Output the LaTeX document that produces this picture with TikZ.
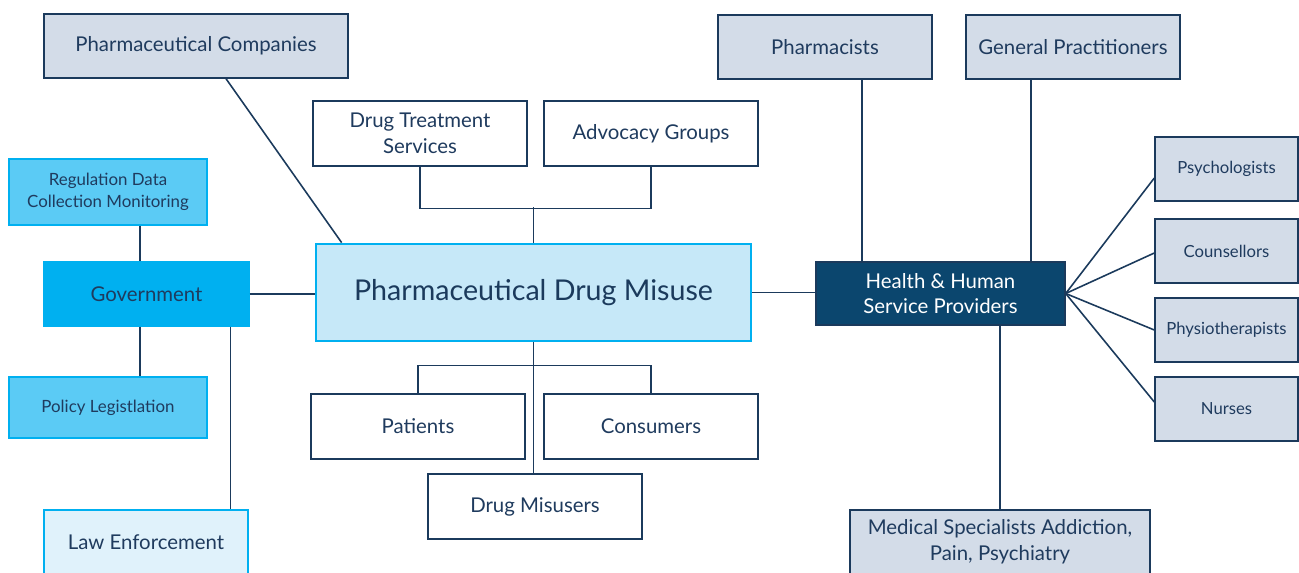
\documentclass[tikz,border=0pt]{standalone}
\usepackage{fontspec}
\setmainfont{Lato}
\usepackage{xcolor}
\usepackage{tikz}
\usetikzlibrary{positioning}
\usetikzlibrary{calc}

\definecolor{navy}{HTML}{1B3A5C}
\definecolor{inktext}{HTML}{1F3B5E}
\definecolor{greyblue}{HTML}{D3DCE8}
\definecolor{cyanline}{HTML}{00B0F0}
\definecolor{cyanmid}{HTML}{5BCBF5}
\definecolor{cyanpale}{HTML}{E0F2FB}
\definecolor{cyanlight}{HTML}{C6E8F8}
\definecolor{deepblue}{HTML}{0B466E}

\begin{document}
\begin{tikzpicture}[x=0.02cm, y=-0.02cm,
  box/.style={draw=navy, line width=0.8pt, text=inktext, align=center, font=\fontsize{11.6}{14.7}\selectfont, minimum width=4.28cm, minimum height=1.3cm, inner sep=2pt},
  greybox/.style={box, fill=greyblue},
  whitebox/.style={box, fill=white},
  smallbox/.style={greybox, minimum width=2.86cm, minimum height=1.28cm, font=\fontsize{9.5}{11}\selectfont},
  govbox/.style={box, draw=cyanline, fill=cyanmid, minimum width=3.96cm, font=\fontsize{9.6}{12.5}\selectfont},
  link/.style={draw=navy, line width=0.9pt}]
\useasboundingbox (0,0) rectangle (1299,572);
\clip (0,0) rectangle (1299,572);

% centre
\node[box, draw=cyanline, line width=1.6pt, fill=cyanlight, minimum width=8.7cm, minimum height=1.94cm, font=\fontsize{16.3}{19}\selectfont, text=navy] (misuse) at (533.5,292.5) {Pharmaceutical Drug Misuse};

% top
\node[greybox, minimum width=6.08cm, minimum height=1.28cm] (pharmaco) at (196,46) {Pharmaceutical Companies};
\node[whitebox] (treat) at (420,133.5) {Drug Treatment\\Services};
\node[whitebox] (advoc) at (651,133.5) {Advocacy Groups};
\node[greybox, minimum height=1.28cm] (pharmacists) at (825,47) {Pharmacists};
\node[greybox, minimum height=1.28cm] (gp) at (1073,47) {General Practitioners};

% left
\node[govbox, minimum height=1.32cm] (regdata) at (108,192) {Regulation Data\\Collection Monitoring};
\node[box, draw=cyanline, fill=cyanline, minimum width=4.1cm, minimum height=1.28cm] (gov) at (146.5,294) {Government};
\node[govbox, minimum height=1.22cm] (policy) at (108,407.5) {Policy Legistlation};
\node[box, draw=cyanline, fill=cyanpale, minimum width=4.08cm, minimum height=1.28cm] (law) at (146,542) {Law Enforcement};

% bottom
\node[whitebox] (patients) at (418,426.5) {Patients};
\node[whitebox] (consumers) at (651,426.5) {Consumers};
\node[whitebox] (misusers) at (535,506.5) {Drug Misusers};

% right
\node[box, fill=deepblue, text=white, minimum width=4.98cm, minimum height=1.26cm] (health) at (940.5,293.5) {Health \& Human\\Service Providers};
\node[smallbox] (psych) at (1226.5,169) {Psychologists};
\node[smallbox] (couns) at (1226.5,251) {Counsellors};
\node[smallbox] (physio) at (1226.5,330) {Physiotherapists};
\node[smallbox] (nurses) at (1226.5,409) {Nurses};
\node[greybox, minimum width=6cm, minimum height=1.28cm] (medspec) at (1000,542) {Medical Specialists Addiction,\\Pain, Psychiatry};

% connectors
\draw[link] ($(pharmaco.south)+(30,0)$) -- ($(misuse.north west)+(27,0)$);
\draw[link] (treat.south) -- ++(0,42) -| (advoc.south);
\draw[link] (misuse.north) -- ++(0,-36);
\draw[link] (patients.north) -- ++(0,-28) -| (consumers.north);
\draw[link] (misuse.south) -- (misuse.south |- misusers.north);

\draw[link] (regdata.south -| gov.north) ++(-6.5,0) coordinate (g1) -- (g1 |- gov.north);
\draw[link] (gov.south) ++(-6.5,0) coordinate (g2) -- (g2 |- policy.north);
\draw[link] (gov.east) -- (gov.east -| misuse.west);
\draw[link] ($(gov.south east)+(-19,0)$) coordinate (g3) -- (g3 |- law.north);

\draw[link] (misuse.east) -- (misuse.east -| health.west);
\draw[link] ($(pharmacists.south)+(37,0)$) coordinate (h1) -- (h1 |- health.north);
\draw[link] ($(gp.south)+(-42,0)$) coordinate (h2) -- (h2 |- health.north);
\draw[link] (medspec.north) -- (medspec.north |- health.south);
\foreach \t/\dy in {psych/9, couns/2, physio/0, nurses/-7}
  \draw[link] (health.east) -- ($(\t.west)+(0,\dy)$);
\end{tikzpicture}
\end{document}
